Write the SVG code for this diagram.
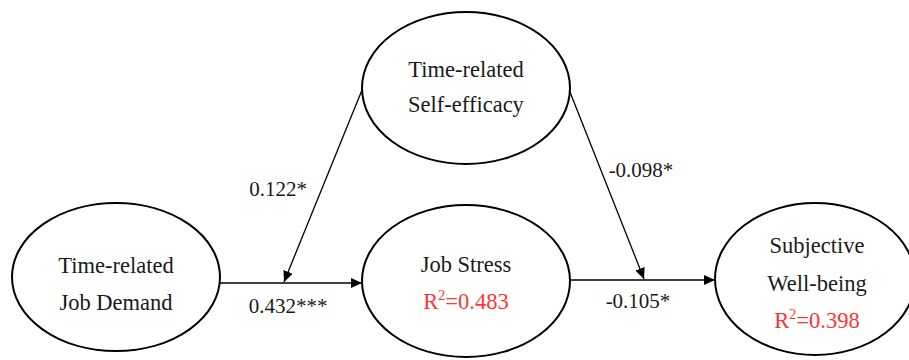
<svg xmlns="http://www.w3.org/2000/svg" width="909" height="360" viewBox="0 0 909 360">
<defs>
<marker id="arr" markerUnits="userSpaceOnUse" markerWidth="12" markerHeight="11" refX="11" refY="5" orient="auto">
<path d="M0,0 L11,5 L0,10 z" fill="#000"/>
</marker>
<style>
.node{fill:#fff;stroke:#000;stroke-width:2}
text{font-family:'Liberation Serif','DejaVu Serif',serif}
.t{font-size:22.5px;fill:#1a1a1a;text-anchor:middle}
.r{fill:#f33}
.lab{font-size:21px;fill:#1a1a1a;text-anchor:middle}
.c{stroke:#000;stroke-width:1.3;fill:none;marker-end:url(#arr)}
</style>
</defs>
<rect width="909" height="360" fill="#fff"/>
<g id="connectors">
<line class="c" x1="220" y1="283" x2="362" y2="283"/>
<line class="c" x1="570" y1="280" x2="715" y2="280"/>
<line class="c" x1="362" y1="90" x2="284" y2="282"/>
<line class="c" x1="568" y1="87" x2="644" y2="279"/>
<text class="lab" x="278" y="196">0.122*</text>
<text class="lab" x="641" y="177">-0.098*</text>
<text class="lab" x="288" y="313">0.432***</text>
<text class="lab" x="638" y="308">-0.105*</text>
</g>
<g id="self-efficacy">
<ellipse class="node" cx="466" cy="88" rx="104" ry="76"/>
<text class="t" x="466" y="77">Time-related</text>
<text class="t" x="466" y="112">Self-efficacy</text>
</g>
<g id="job-demand">
<ellipse class="node" cx="116" cy="277" rx="104" ry="74"/>
<text class="t" x="116" y="273">Time-related</text>
<text class="t" x="116" y="310">Job Demand</text>
</g>
<g id="job-stress">
<ellipse class="node" cx="466" cy="281" rx="104" ry="76"/>
<text class="t" x="466" y="272">Job Stress</text>
<text class="t r" x="466" y="309">R<tspan font-size="14" dy="-9">2</tspan><tspan dy="9">=0.483</tspan></text>
</g>
<g id="well-being">
<ellipse class="node" cx="815" cy="279" rx="100" ry="76"/>
<text class="t" x="817" y="253">Subjective</text>
<text class="t" x="817" y="291">Well-being</text>
<text class="t r" x="817" y="328">R<tspan font-size="14" dy="-9">2</tspan><tspan dy="9">=0.398</tspan></text>
</g>
</svg>
